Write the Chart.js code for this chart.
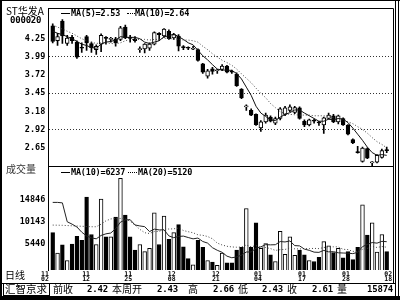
<!DOCTYPE html>
<html>
<head>
<meta charset="utf-8">
<script src="https://cdn.jsdelivr.net/npm/chart.js@4.4.1/dist/chart.umd.min.js"></script>
<style>
  html, body { margin: 0; padding: 0; background: #fff; }
  #wrap { position: relative; width: 400px; height: 300px; overflow: hidden; background: #fff; }
  #wrap canvas { position: absolute; left: 0; top: 0; }
  .t { position: absolute; white-space: nowrap; color: #000; line-height: 1; }
  .num { font-family: 'DejaVu Sans Mono', monospace; font-weight: bold; font-size: 8.5px; letter-spacing: -0.2px; }
  .cn { font-family: 'Noto Sans CJK SC', sans-serif; font-size: 10px; }
  .ln { position: absolute; background: #000; }
  .dot { position: absolute; height: 0; border-top: 1px dotted #000; }
</style>
</head>
<body>
<div id="wrap">
  <canvas id="kline" width="400" height="300"></canvas>

  <!-- outer frame -->
  <div class="ln" style="left:0;top:0;width:2px;height:300px"></div>
  <div class="ln" style="left:0;top:0;width:400px;height:1px"></div>
  <div class="ln" style="left:0;top:296px;width:400px;height:4px"></div>
  <div class="ln" style="left:395px;top:0;width:1px;height:300px"></div>
  <div class="ln" style="left:398px;top:0;width:1px;height:300px"></div>
  <div class="ln" style="left:0;top:283px;width:396px;height:1px"></div>

  <!-- header -->
  <div class="t cn" style="left:6px;top:6px;font-size:10px">ST华发A</div>
  <div class="t num" style="left:10px;top:16px;font-size:9px">000020</div>
  <div class="ln" style="left:61px;top:13px;width:9px;height:1px"></div>
  <div class="t num" style="left:71px;top:8.5px">MA(5)=2.53</div>
  <div class="dot" style="left:127px;top:13px;width:8px"></div>
  <div class="t num" style="left:135px;top:8.5px">MA(10)=2.64</div>

  <!-- volume header -->
  <div class="t cn" style="left:6px;top:164px;color:#333">成交量</div>
  <div class="ln" style="left:61px;top:172px;width:9px;height:1px"></div>
  <div class="t num" style="left:71px;top:167.5px">MA(10)=6237</div>
  <div class="dot" style="left:128px;top:172px;width:9px"></div>
  <div class="t num" style="left:138px;top:167.5px">MA(20)=5120</div>

  <div class="t cn" style="left:5px;top:270px">日线</div>

  <!-- info row -->
  <div style="position:absolute;left:3px;top:283px;width:45px;height:11px;border:1px solid #000"></div>
  <div class="t cn" style="left:5px;top:284px;font-size:10.5px">汇智京求</div>
  <div class="t cn" style="left:53px;top:284px">前收</div>
  <div class="t num" style="left:87px;top:285px;font-size:9px">2.42</div>
  <div class="t cn" style="left:112px;top:284px">本周开</div>
  <div class="t num" style="left:157px;top:285px;font-size:9px">2.43</div>
  <div class="t cn" style="left:188px;top:284px">高</div>
  <div class="t num" style="left:213px;top:285px;font-size:9px">2.66</div>
  <div class="t cn" style="left:238px;top:284px">低</div>
  <div class="t num" style="left:262px;top:285px;font-size:9px">2.43</div>
  <div class="t cn" style="left:287px;top:284px">收</div>
  <div class="t num" style="left:312px;top:285px;font-size:9px">2.61</div>
  <div class="t cn" style="left:337px;top:284px">量</div>
  <div class="t num" style="left:367px;top:285px;font-size:9px">15874</div>
</div>

<script>
// daily candles, 70 sessions
const OPEN = [4.44, 4.22, 4.51, 4.18, 4.27, 4.20, 4.12, 4.28, 4.18, 4.09,
  4.17, 4.26, 4.24, 4.25, 4.24, 4.42, 4.26, 4.25, 4.09, 4.10,
  4.11, 4.17, 4.33, 4.29, 4.36, 4.26, 4.29, 4.125, 4.115, 4.095,
  4.09, 3.88, 3.70, 3.81, 3.78, 3.80, 3.85, 3.77, 3.73, 3.51,
  3.25, 3.20, 3.14, 2.94, 3.03, 3.10, 3.01, 3.08, 3.14, 3.20,
  3.17, 3.235, 3.04, 2.985, 3.045, 3.02, 2.985, 3.08, 3.12, 3.03,
  3.08, 2.985, 2.77, 2.59, 2.45, 2.64, 2.43, 2.44, 2.51, 2.62];
const HIGH = [4.47, 4.33, 4.53, 4.30, 4.30, 4.22, 4.19, 4.30, 4.20, 4.16,
  4.32, 4.28, 4.27, 4.27, 4.43, 4.45, 4.30, 4.28, 4.13, 4.18,
  4.19, 4.35, 4.34, 4.40, 4.38, 4.33, 4.31, 4.15, 4.13, 4.14,
  4.10, 3.89, 3.80, 3.83, 3.80, 3.87, 3.86, 3.79, 3.75, 3.52,
  3.28, 3.22, 3.15, 3.05, 3.16, 3.12, 3.10, 3.24, 3.26, 3.28,
  3.26, 3.25, 3.06, 3.07, 3.07, 3.04, 3.10, 3.16, 3.14, 3.13,
  3.09, 2.99, 2.78, 2.67, 2.66, 2.65, 2.45, 2.55, 2.63, 2.66];
const LOW = [4.19, 4.15, 4.18, 4.15, 4.18, 3.96, 4.05, 4.08, 4.05, 4.02,
  4.06, 4.17, 4.20, 4.14, 4.22, 4.25, 4.20, 4.20, 4.05, 4.04,
  4.08, 4.16, 4.22, 4.27, 4.24, 4.24, 4.07, 4.09, 4.09, 4.09,
  3.92, 3.74, 3.67, 3.73, 3.74, 3.78, 3.75, 3.74, 3.55, 3.37,
  3.20, 3.12, 2.98, 2.89, 3.01, 3.03, 2.99, 3.06, 3.12, 3.18,
  3.15, 3.07, 2.96, 2.97, 3.01, 2.98, 2.86, 3.07, 3.02, 3.00,
  2.98, 2.84, 2.71, 2.57, 2.44, 2.49, 2.39, 2.43, 2.50, 2.58];
const CLOSE = [4.21, 4.28, 4.29, 4.26, 4.22, 3.98, 4.11, 4.19, 4.12, 4.14,
  4.30, 4.255, 4.245, 4.19, 4.41, 4.26, 4.255, 4.22, 4.10, 4.17,
  4.17, 4.34, 4.31, 4.39, 4.25, 4.31, 4.14, 4.12, 4.11, 4.10,
  3.93, 3.76, 3.78, 3.77, 3.785, 3.85, 3.76, 3.76, 3.56, 3.38,
  3.255, 3.13, 2.99, 3.03, 3.13, 3.04, 3.08, 3.22, 3.235, 3.25,
  3.24, 3.08, 2.985, 3.06, 3.04, 3.015, 3.09, 3.13, 3.03, 3.12,
  2.985, 2.85, 2.72, 2.58, 2.645, 2.50, 2.44, 2.54, 2.61, 2.61];
const MA5 = [4.36, 4.33, 4.31, 4.28, 4.25, 4.21, 4.17, 4.15, 4.12, 4.11,
  4.17, 4.20, 4.21, 4.23, 4.28, 4.27, 4.27, 4.27, 4.25, 4.20,
  4.18, 4.20, 4.22, 4.28, 4.29, 4.32, 4.28, 4.24, 4.19, 4.16,
  4.08, 4.00, 3.94, 3.87, 3.805, 3.79, 3.79, 3.785, 3.74, 3.66,
  3.54, 3.42, 3.26, 3.16, 3.11, 3.06, 3.05, 3.10, 3.14, 3.165,
  3.205, 3.205, 3.16, 3.12, 3.08, 3.04, 3.04, 3.07, 3.06, 3.08,
  3.07, 3.02, 2.94, 2.85, 2.76, 2.66, 2.58, 2.54, 2.55, 2.54];
const MA10 = [4.45, 4.42, 4.39, 4.36, 4.33, 4.29, 4.25, 4.22, 4.20, 4.18,
  4.19, 4.19, 4.18, 4.175, 4.19, 4.22, 4.24, 4.24, 4.24, 4.24,
  4.23, 4.24, 4.24, 4.26, 4.25, 4.25, 4.24, 4.23, 4.23, 4.22,
  4.20, 4.14, 4.09, 4.03, 3.98, 3.935, 3.90, 3.86, 3.805, 3.735,
  3.67, 3.605, 3.525, 3.45, 3.385, 3.30, 3.24, 3.18, 3.15, 3.14,
  3.135, 3.13, 3.13, 3.13, 3.12, 3.12, 3.12, 3.11, 3.09, 3.08,
  3.05, 3.03, 3.005, 2.96, 2.92, 2.865, 2.80, 2.74, 2.70, 2.65];

// volume (lots) and its averages
const VOL = [7900, 3600, 5300, 2000, 5500, 7100, 6300, 15400, 7500, 5400,
  15000, 7000, 7000, 11200, 19400, 11600, 7000, 4200, 5400, 3900,
  4600, 12100, 5400, 11400, 6500, 7900, 9600, 4900, 2400, 1100,
  6300, 4800, 2000, 1700, 1000, 3600, 1500, 1500, 4200, 4800,
  13000, 4800, 10000, 4600, 5600, 3200, 1800, 8200, 3300, 7000,
  3100, 4200, 3200, 2000, 1800, 2700, 6000, 5100, 3700, 4600,
  2600, 3900, 2200, 4800, 13800, 7400, 10000, 3800, 7500, 3900];
const VMA10 = [14300, 14300, 14200, 10200, 9700, 9100, 8000, 7200, 6800, 6600,
  7310, 7650, 7820, 8740, 10130, 10580, 10650, 9530, 9320, 9170,
  8130, 8640, 8480, 8500, 7210, 6840, 7100, 7170, 6870, 6590,
  6760, 6030, 5690, 4720, 4170, 3740, 2930, 2590, 2770, 3140,
  3810, 3810, 4610, 4900, 5360, 5320, 5350, 6020, 5930, 6150,
  5160, 5100, 4420, 4160, 3780, 3730, 4150, 3840, 3880, 3640,
  3590, 3560, 3460, 3740, 4940, 5410, 5810, 5680, 6060, 5990];
const VMA20 = [9500, 9480, 9450, 9400, 9350, 9300, 9250, 9200, 9150, 9150,
  9700, 10400, 10800, 10900, 10900, 10800, 10300, 9500, 8600, 7885,
  7720, 8145, 8150, 8620, 8670, 8710, 8875, 8350, 8095, 7880,
  7445, 7335, 7085, 6610, 5690, 5290, 5015, 4880, 4820, 4865,
  5285, 4920, 5150, 4810, 4765, 4530, 4140, 4305, 4350, 4645,
  4485, 4455, 4515, 4530, 4570, 4525, 4750, 4930, 4905, 4895,
  4375, 4330, 3940, 3950, 4360, 4570, 4980, 4760, 4970, 4815];

// axis labels
const PRICE_TICKS = [4.25, 3.99, 3.72, 3.45, 3.18, 2.92, 2.65];
const PRICE_GRID = [3.99, 3.45, 2.92];
const VOL_TICKS = [14846, 10143, 5440];
const DATE_POS = [-0.6, 7.9, 16.6, 25.6, 34.7, 43.4, 52.5, 61.6, 70.3];
const DATE_LABELS = [['11', '02'], ['11', '12'], ['11', '25'], ['12', '08'], ['12', '21'],
  ['01', '04'], ['01', '17'], ['01', '28'], ['02', '18']];

const xy = (arr) => arr.map((v, i) => ({ x: i + 1, y: v }));
const isUp = (i) => CLOSE[i] >= OPEN[i];
const numFont = { family: "'DejaVu Sans Mono', monospace", size: 8.5, weight: 'bold' };

// plot border and the line between price and volume panels
const framePlugin = {
  id: 'frame',
  afterDraw(chart) {
    const { ctx, chartArea: a, scales } = chart;
    const top = Math.round(a.top) + 0.5;
    const sep = Math.round(scales.yv.top) + 0.5;
    const right = Math.round(a.right) + 0.5;
    ctx.save();
    ctx.strokeStyle = '#000';
    ctx.lineWidth = 1;
    ctx.beginPath();
    ctx.moveTo(a.left, top); ctx.lineTo(right, top);
    ctx.moveTo(a.left, sep); ctx.lineTo(right, sep);
    ctx.moveTo(right, top); ctx.lineTo(right, chart.height - 17);
    ctx.stroke();
    ctx.restore();
  }
};

new Chart(document.getElementById('kline'), {
  type: 'bar',
  data: {
    datasets: [
      {
        type: 'line', label: 'MA5', data: xy(MA5), yAxisID: 'yp',
        borderColor: '#111', borderWidth: 1, pointRadius: 0, order: 0,
      },
      {
        type: 'line', label: 'MA10', data: xy(MA10), yAxisID: 'yp',
        borderColor: '#444', borderWidth: 1, borderDash: [1, 2], pointRadius: 0, order: 0,
      },
      {
        label: 'body', yAxisID: 'yp', grouped: false, order: 1,
        data: OPEN.map((o, i) => ({ x: i + 1, y: [o, CLOSE[i]] })),
        barThickness: 3.8, minBarLength: 1,
        backgroundColor: (c) => isUp(c.dataIndex) ? '#fff' : '#000',
        borderColor: '#000', borderWidth: 1, borderSkipped: false,
      },
      {
        label: 'wick', yAxisID: 'yp', grouped: false, order: 2,
        data: LOW.map((l, i) => ({ x: i + 1, y: [l, HIGH[i]] })),
        barThickness: 1, backgroundColor: '#000',
      },
      {
        label: 'vol', yAxisID: 'yv', grouped: false, order: 1,
        data: xy(VOL),
        barThickness: 3.8,
        backgroundColor: (c) => isUp(c.dataIndex) ? '#fff' : '#000',
        borderColor: '#000', borderWidth: 1, borderSkipped: 'start',
      },
      {
        type: 'line', label: 'VMA10', data: xy(VMA10), yAxisID: 'yv',
        borderColor: '#222', borderWidth: 1, pointRadius: 0, order: 0,
      },
      {
        type: 'line', label: 'VMA20', data: xy(VMA20), yAxisID: 'yv',
        borderColor: '#444', borderWidth: 1, borderDash: [1, 2], pointRadius: 0, order: 0,
      },
    ]
  },
  options: {
    responsive: false,
    animation: false,
    devicePixelRatio: 1,
    layout: { padding: { left: 0, right: 7.3, top: 5, bottom: 0 } },
    plugins: { legend: { display: false }, tooltip: { enabled: false } },
    scales: {
      x: {
        type: 'linear', min: 0.09, max: 71.24, offset: false, bounds: 'data',
        grid: { display: false, drawTicks: false },
        border: { display: false },
        afterBuildTicks: (s) => { s.ticks = DATE_POS.map((v) => ({ value: v })); },
        afterFit: (s) => { s.height = 30; },
        ticks: {
          autoSkip: false, maxRotation: 0, minRotation: 0, padding: 1.5, color: '#000',
          font: { family: "'DejaVu Sans Mono', monospace", size: 6.5, weight: 'bold', lineHeight: 0.8 },
          callback: (v, i) => DATE_LABELS[i],
        },
      },
      yv: {
        type: 'linear', position: 'left', stack: 'k', stackWeight: 105,
        min: 0, max: 21950, offset: false, bounds: 'data',
        afterBuildTicks: (s) => { s.ticks = VOL_TICKS.map((v) => ({ value: v })); },
        afterFit: (s) => { s.width = 48.3; },
        grid: { display: false, drawTicks: false },
        border: { display: true, color: '#000', width: 1 },
        ticks: { padding: 3, color: '#000', font: numFont, callback: (v) => String(v) },
      },
      yp: {
        type: 'linear', position: 'left', stack: 'k', stackWeight: 160,
        min: 2.38, max: 4.699, offset: false, bounds: 'data',
        afterBuildTicks: (s) => { s.ticks = PRICE_TICKS.map((v) => ({ value: v })); },
        afterFit: (s) => { s.width = 48.3; },
        grid: {
          drawTicks: false, lineWidth: 1,
          color: (c) => (c.tick && PRICE_GRID.includes(c.tick.value)) ? '#333' : 'rgba(0,0,0,0)',
        },
        border: { display: true, color: '#000', width: 1, dash: [1, 2] },
        ticks: { padding: 3, color: '#000', font: numFont, callback: (v) => v.toFixed(2) },
      },
    }
  },
  plugins: [framePlugin]
});
</script>
</body>
</html>
